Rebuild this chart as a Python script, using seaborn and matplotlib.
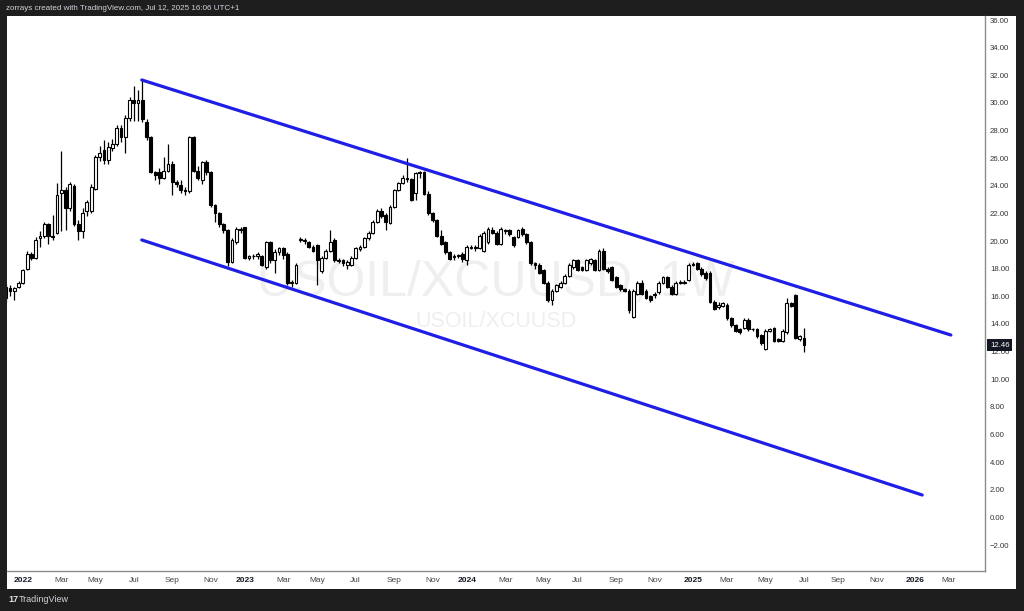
import numpy as np
import pandas as pd
import matplotlib
matplotlib.use("Agg")
import matplotlib.pyplot as plt
import matplotlib.transforms as mtransforms
from matplotlib.patches import Rectangle
import seaborn as sns

# ---------------- data (weekly USOIL/XCUUSD candles) ----------------
first_week = "2021-12-06"

opens = [15.9, 16.6, 16.4, 16.7, 17.0, 18.0, 19.05, 18.8, 20.2, 20.4,
         21.2, 20.4, 20.6, 23.5, 23.7, 22.4, 24.0, 21.2, 20.7, 22.2,
         22.2, 23.8, 26.1, 26.6, 25.9, 26.7, 27.0, 28.2, 27.5, 28.9,
         30.2, 30.0, 30.2, 28.6, 27.5, 25.0, 25.0, 24.6, 25.1, 25.6,
         24.3, 24.05, 23.7, 23.6, 27.5, 25.1, 24.4, 25.7, 25.0, 22.6,
         22.0, 21.2, 20.8, 18.5, 19.9, 20.8, 21.0, 18.8, 18.9, 18.9,
         18.9, 18.1, 19.9, 18.6, 19.2, 19.5, 19.1, 16.95, 17.0, 20.1,
         20.0, 19.9, 19.6, 19.7, 17.8, 18.8, 19.3, 20.1, 18.65, 18.6,
         18.3, 18.3, 18.8, 19.4, 19.6, 20.2, 20.6, 21.4, 22.2, 21.9,
         21.3, 22.5, 23.7, 24.2, 24.6, 24.5, 23.5, 24.9, 25.0, 23.4,
         22.0, 21.5, 20.4, 19.9, 19.2, 18.85, 18.9, 19.1, 18.6, 19.5,
         19.5, 19.5, 19.3, 19.9, 20.8, 20.6, 19.8, 20.7, 20.8, 20.3,
         20.3, 20.9, 20.5, 19.9, 18.4, 18.3, 17.9, 17.0, 15.7, 16.4,
         16.7, 17.0, 17.5, 18.1, 18.6, 18.1, 17.9, 18.4, 18.6, 17.9,
         19.3, 18.0, 18.1, 17.4, 16.8, 16.5, 16.4, 14.5, 16.2, 17.0,
         16.4, 16.0, 16.1, 16.3, 17.0, 17.4, 16.7, 16.2, 17.0, 17.0,
         17.2, 18.3, 18.4, 18.0, 17.7, 17.7, 15.6, 15.2, 15.3, 15.4,
         14.4, 13.9, 13.6, 13.7, 14.3, 13.6, 13.6, 13.2, 12.2, 13.5,
         13.7, 12.9, 12.8, 13.4, 15.5, 16.1, 12.9, 13.0]

highs = [16.9, 16.8, 16.7, 17.1, 18.0, 19.3, 19.2, 20.3, 20.7, 21.4,
         21.3, 21.9, 24.2, 26.5, 23.9, 24.3, 24.1, 21.5, 22.4, 23.0,
         24.1, 26.2, 26.9, 27.3, 27.2, 27.4, 28.4, 28.4, 29.1, 30.4,
         31.2, 30.9, 31.7, 28.8, 27.6, 25.1, 25.3, 26.1, 27.0, 25.8,
         24.4, 24.4, 23.9, 27.6, 27.6, 25.4, 25.8, 25.9, 25.1, 22.7,
         22.1, 21.3, 20.9, 20.2, 21.0, 21.0, 21.0, 19.0, 19.1, 19.2,
         19.0, 20.0, 20.0, 19.4, 19.6, 19.6, 19.2, 17.2, 18.4, 20.3,
         20.2, 20.0, 19.7, 19.8, 18.9, 19.4, 20.8, 20.2, 18.8, 18.7,
         18.6, 18.9, 19.6, 19.7, 20.3, 20.7, 21.5, 22.3, 22.4, 22.0,
         22.6, 23.8, 24.3, 24.8, 26.0, 24.6, 25.0, 25.1, 25.1, 23.6,
         22.1, 21.6, 20.8, 20.0, 19.3, 19.1, 19.1, 19.2, 19.7, 19.7,
         19.7, 20.5, 20.7, 21.0, 21.0, 20.7, 21.0, 20.9, 20.9, 20.4,
         20.9, 21.0, 20.6, 20.0, 18.5, 18.4, 18.0, 17.1, 16.5, 16.9,
         17.1, 17.6, 18.4, 18.7, 18.7, 18.2, 18.7, 18.8, 18.7, 19.4,
         19.5, 18.1, 18.2, 17.5, 16.9, 16.6, 16.5, 16.5, 17.1, 17.2,
         16.5, 16.1, 16.3, 17.1, 17.5, 17.5, 16.8, 17.1, 17.2, 17.2,
         18.4, 18.5, 18.5, 18.1, 17.8, 17.8, 15.7, 15.6, 15.6, 15.5,
         14.5, 14.0, 13.7, 14.4, 14.4, 13.7, 13.7, 13.3, 13.6, 13.7,
         13.8, 13.0, 13.6, 15.9, 15.6, 16.2, 13.2, 13.7]

lows = [15.6, 16.0, 15.7, 16.6, 16.9, 17.9, 18.6, 18.7, 19.6, 20.2,
        19.8, 20.1, 20.5, 20.7, 20.8, 22.2, 21.1, 20.1, 20.2, 21.8,
        22.0, 23.7, 25.8, 25.6, 25.6, 26.5, 26.9, 27.2, 26.4, 28.7,
        28.7, 28.7, 28.6, 27.3, 24.9, 24.4, 24.1, 24.5, 25.0, 23.3,
        23.9, 23.5, 23.3, 23.5, 25.0, 24.4, 24.1, 24.8, 22.5, 21.4,
        21.0, 20.6, 18.2, 18.4, 19.8, 20.6, 18.7, 18.6, 18.7, 18.7,
        18.2, 18.0, 18.4, 17.7, 19.0, 18.7, 16.8, 16.7, 16.9, 19.9,
        19.8, 19.5, 19.2, 16.8, 17.7, 18.7, 19.2, 18.5, 18.4, 18.2,
        18.0, 18.2, 18.7, 19.3, 19.5, 20.1, 20.5, 21.3, 21.7, 20.8,
        21.2, 22.4, 23.6, 24.1, 24.3, 22.9, 23.0, 24.6, 23.3, 21.9,
        21.4, 20.3, 19.7, 19.1, 18.6, 18.6, 18.8, 18.5, 18.3, 19.4,
        19.3, 19.4, 19.2, 19.8, 20.5, 19.7, 19.7, 20.5, 20.4, 19.6,
        20.2, 20.4, 19.8, 18.3, 18.0, 17.6, 16.9, 15.6, 15.4, 16.3,
        16.6, 16.9, 17.4, 18.0, 17.8, 17.8, 17.8, 18.3, 17.8, 17.8,
        17.9, 17.7, 17.1, 16.6, 16.4, 16.3, 14.8, 14.4, 16.1, 16.1,
        15.8, 15.6, 15.9, 16.2, 16.9, 16.6, 16.1, 16.1, 16.9, 16.9,
        17.1, 18.2, 17.9, 17.5, 17.2, 15.5, 15.0, 15.1, 15.2, 14.3,
        13.8, 13.4, 13.3, 13.6, 13.5, 13.5, 13.0, 12.5, 12.1, 13.4,
        12.7, 12.7, 12.7, 13.3, 15.2, 12.9, 12.8, 12.0]

closes = [16.7, 16.4, 16.6, 17.0, 17.9, 19.1, 18.8, 20.1, 20.4, 21.2,
          20.4, 20.3, 23.3, 23.7, 22.4, 24.1, 21.2, 20.7, 22.0, 22.8,
          23.9, 26.1, 26.4, 25.9, 26.8, 27.0, 28.2, 27.5, 28.9, 30.2,
          30.0, 30.2, 28.8, 27.5, 25.0, 24.8, 24.6, 25.1, 25.6, 24.3,
          24.1, 23.7, 23.6, 27.5, 25.1, 24.6, 25.7, 25.0, 22.6, 22.0,
          21.2, 20.8, 18.5, 20.1, 20.9, 20.9, 18.8, 18.9, 18.95, 19.1,
          18.3, 19.9, 18.6, 19.2, 19.5, 19.0, 17.0, 17.05, 18.3, 20.15,
          20.05, 19.6, 19.3, 18.6, 18.8, 19.3, 19.9, 18.6, 18.55, 18.4,
          18.5, 18.8, 19.5, 19.6, 20.2, 20.6, 21.4, 22.2, 21.8, 21.4,
          22.5, 23.7, 24.2, 24.6, 24.5, 23.0, 24.9, 25.0, 23.4, 22.0,
          21.5, 20.4, 19.8, 19.2, 18.7, 18.9, 19.0, 18.7, 19.6, 19.6,
          19.55, 20.4, 20.6, 20.9, 20.6, 19.8, 20.9, 20.8, 20.5, 19.7,
          20.8, 20.5, 19.9, 18.4, 18.3, 17.7, 17.0, 15.7, 16.4, 16.8,
          17.0, 17.5, 18.3, 18.6, 17.9, 17.9, 18.6, 18.7, 17.9, 19.3,
          18.0, 17.8, 17.2, 16.7, 16.5, 16.4, 15.0, 16.4, 17.0, 16.2,
          15.9, 15.7, 16.2, 17.0, 17.4, 16.7, 16.2, 17.0, 17.02, 17.03,
          18.3, 18.35, 18.0, 17.6, 17.3, 15.6, 15.1, 15.4, 15.5, 14.4,
          13.9, 13.5, 13.4, 14.3, 13.6, 13.62, 13.1, 12.6, 13.5, 13.6,
          12.8, 12.8, 13.5, 15.5, 15.3, 13.0, 13.1, 12.46]

# parallel channel drawn on the chart (anchor dates and prices)
channel_dates = ["2022-07-17", "2026-03-05"]
upper_line = [31.66, 13.20]
lower_dates = ["2022-07-17", "2026-01-17"]
lower_line = [20.08, 1.62]

x_tick_dates = ["2022-01-03", "2022-03-07", "2022-05-02", "2022-07-04", "2022-09-05", "2022-11-07",
                "2023-01-02", "2023-03-06", "2023-05-01", "2023-07-03", "2023-09-04", "2023-11-06",
                "2024-01-01", "2024-03-04", "2024-05-06", "2024-07-01", "2024-09-02", "2024-11-04",
                "2025-01-06", "2025-03-03", "2025-05-05", "2025-07-07", "2025-09-01", "2025-11-03",
                "2026-01-05", "2026-03-02"]
x_tick_labels = ["2022", "Mar", "May", "Jul", "Sep", "Nov",
                 "2023", "Mar", "May", "Jul", "Sep", "Nov",
                 "2024", "Mar", "May", "Jul", "Sep", "Nov",
                 "2025", "Mar", "May", "Jul", "Sep", "Nov",
                 "2026", "Mar"]
y_ticks = [-2, 0, 2, 4, 6, 8, 10, 12, 14, 16, 18, 20, 22, 24, 26, 28, 30, 32, 34, 36]
last_price = 12.46

# ---------------- figure ----------------
sns.set_theme(style="white")
plt.rcParams['font.family'] = ['Liberation Sans', 'DejaVu Sans']

W, H = 1024, 611
fig = plt.figure(figsize=(W / 100, H / 100), dpi=100, facecolor='#1e1e1e')
fig.patches.append(Rectangle((7 / W, (H - 589) / H), (1016 - 7) / W, (589 - 16) / H,
                             transform=fig.transFigure, facecolor='white',
                             edgecolor='none', zorder=-5))

ax = fig.add_axes([7 / W, (H - 571) / H, (985 - 7) / W, (571 - 16) / H])
ax.set_zorder(2)
ax.set_facecolor('white')

df = pd.DataFrame({
    "date": pd.date_range(first_week, periods=len(closes), freq="7D"),
    "open": opens, "high": highs, "low": lows, "close": closes,
})
up = df["close"] >= df["open"]
body_low = np.minimum(df["open"], df["close"])
body_h = np.maximum(np.abs(df["close"] - df["open"]), 0.04)

# watermark
ax.text(0.5, 0.519, "USOIL/XCUUSD, 1W", transform=ax.transAxes, ha='center', va='center',
        fontsize=36, color='#efefef', zorder=0)
ax.text(0.5, 0.450, "USOIL/XCUUSD", transform=ax.transAxes, ha='center', va='center',
        fontsize=15.5, color='#efefef', zorder=0)

# candles
ax.vlines(df["date"], df["low"], df["high"], color='black', linewidth=0.9, zorder=2)
ax.bar(df["date"], body_h, bottom=body_low, width=4.6,
       color=np.where(up, 'white', 'black'), edgecolor='black', linewidth=0.8, zorder=3)

# channel lines
blue = '#1e1ee6'
sns.lineplot(x=pd.to_datetime(channel_dates), y=upper_line, ax=ax, color=blue, linewidth=2.3, zorder=4)
sns.lineplot(x=pd.to_datetime(lower_dates), y=lower_line, ax=ax, color=blue, linewidth=2.3, zorder=4)

ax.set_xlim(pd.Timestamp("2021-12-08"), pd.Timestamp("2026-04-30"))
ax.set_ylim(-3.88, 36.29)
ax.set_xlabel("")
ax.set_ylabel("")
ax.grid(False)

# y axis on right
ax.yaxis.tick_right()
ax.set_yticks(y_ticks)
ax.set_yticklabels([f"{v:.2f}".replace("-", "\u2212") for v in y_ticks])
ax.tick_params(axis='y', length=0, pad=3.6, labelsize=5.6, labelcolor='#333333')

# x axis
ax.set_xticks(pd.to_datetime(x_tick_dates))
ax.set_xticklabels(x_tick_labels)
ax.tick_params(axis='x', length=0, pad=4.0, labelsize=6.0, labelcolor='#444444')
for lbl in ax.get_xticklabels():
    if lbl.get_text().isdigit():
        lbl.set_fontweight('bold')
        lbl.set_color('#131722')

for side in ['left', 'top']:
    ax.spines[side].set_visible(False)
for side in ['right', 'bottom']:
    ax.spines[side].set_visible(True)
    ax.spines[side].set_color('#8c8c8c')
    ax.spines[side].set_linewidth(1.0)

# last price label
trans = mtransforms.blended_transform_factory(ax.transAxes, ax.transData)
ax.text(1.0 + 5 / 978, last_price, f"{last_price:.2f}", transform=trans, ha='left', va='center',
        fontsize=5.6, color='white', clip_on=False, zorder=10,
        bbox=dict(facecolor='#131722', edgecolor='none', boxstyle='square,pad=0.35'))

# header and footer
fig.text(6 / W, 1 - 9 / H, "zorrays created with TradingView.com, Jul 12, 2025 16:06 UTC+1",
         color='#d1d4dc', fontsize=5.8, va='center', ha='left')
fig.text(8 / W, 1 - 600 / H, "17", color='#e0e0e0', fontsize=6.5, fontweight='bold',
         va='center', ha='left')
fig.text(19 / W, 1 - 600 / H, "TradingView", color='#d1d4dc', fontsize=6.5,
         va='center', ha='left')

fig.savefig("out.png", dpi=100, facecolor=fig.get_facecolor())
